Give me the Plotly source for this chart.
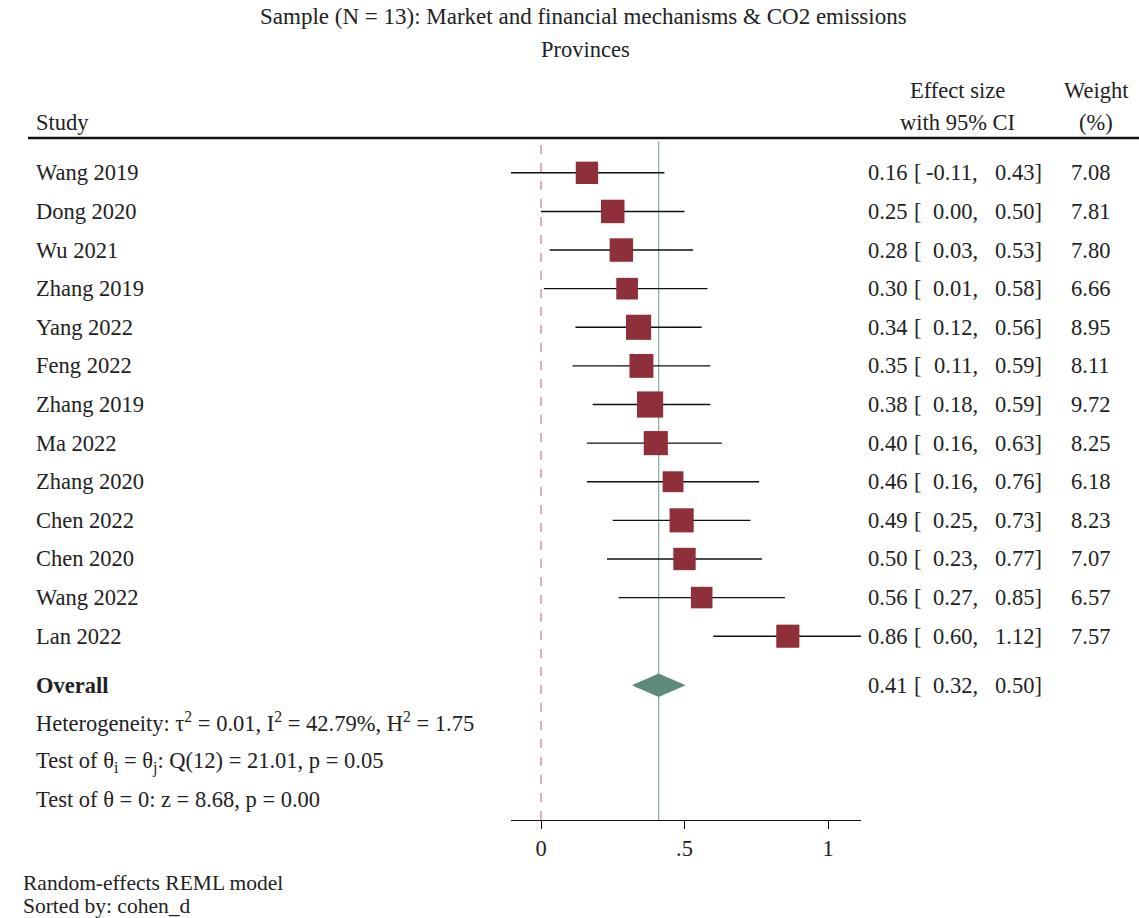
import plotly.graph_objects as go

studies = ["Wang 2019", "Dong 2020", "Wu 2021", "Zhang 2019", "Yang 2022", "Feng 2022",
           "Zhang 2019", "Ma 2022", "Zhang 2020", "Chen 2022", "Chen 2020", "Wang 2022", "Lan 2022"]
effect = [0.16, 0.25, 0.28, 0.30, 0.34, 0.35, 0.38, 0.40, 0.46, 0.49, 0.50, 0.56, 0.86]
ci_low = [-0.11, 0.00, 0.03, 0.01, 0.12, 0.11, 0.18, 0.16, 0.16, 0.25, 0.23, 0.27, 0.60]
ci_high = [0.43, 0.50, 0.53, 0.58, 0.56, 0.59, 0.59, 0.63, 0.76, 0.73, 0.77, 0.85, 1.12]
weight = [7.08, 7.81, 7.80, 6.66, 8.95, 8.11, 9.72, 8.25, 6.18, 8.23, 7.07, 6.57, 7.57]

overall = 0.41
overall_low = 0.32
overall_high = 0.50

tick_vals = [0, 0.5, 1]
tick_text = ["0", ".5", "1"]

title1 = "Sample (N = 13): Market and financial mechanisms & CO2 emissions"
title2 = "Provinces"
stats_lines = [
    "Heterogeneity: τ<sup>2</sup> = 0.01, I<sup>2</sup> = 42.79%, H<sup>2</sup> = 1.75",
    "Test of θ<sub>i</sub> = θ<sub>j</sub>: Q(12) = 21.01, p = 0.05",
    "Test of θ = 0: z = 8.68, p = 0.00",
]
footer = ["Random-effects REML model", "Sorted by: cohen_d"]

W, H = 1139, 918
FONT = "Liberation Serif, Times New Roman, serif"
FS = 22.5
TXT = "#222222"
SQ = "#8E2F3A"
DIA = "#5E8A7E"

def px(xp):
    return xp / W

def py(yp):
    return 1 - yp / H

n = len(studies)
rows = list(range(n))
row_overall = 13.27
row_stats = [14.22, 15.26, 16.24]

fig = go.Figure()

y_top, y_bot = -0.72, 16.76
fig.add_trace(go.Scatter(x=[0, 0], y=[y_top, y_bot], mode="lines",
                         line=dict(color="#C9858C", width=1.3, dash="dash"),
                         hoverinfo="skip", showlegend=False))
fig.add_trace(go.Scatter(x=[overall, overall], y=[y_top - 0.1, y_bot], mode="lines",
                         line=dict(color="#8FB0A6", width=1.3),
                         hoverinfo="skip", showlegend=False))

for i in rows:
    fig.add_trace(go.Scatter(x=[ci_low[i], ci_high[i]], y=[i, i], mode="lines",
                             line=dict(color="#111111", width=1.4),
                             hoverinfo="skip", showlegend=False))

fig.add_trace(go.Scatter(x=effect, y=rows, mode="markers",
                         marker=dict(symbol="square", color=SQ, opacity=1,
                                     size=[8.4 * w ** 0.5 for w in weight],
                                     line=dict(width=0)),
                         hoverinfo="skip", showlegend=False))

dh = 0.29
fig.add_trace(go.Scatter(x=[overall_low, overall, overall_high, overall, overall_low],
                         y=[row_overall, row_overall - dh, row_overall, row_overall + dh, row_overall],
                         mode="lines", fill="toself", fillcolor=DIA,
                         line=dict(color=DIA, width=1), hoverinfo="skip", showlegend=False))

ann = []

def add_text(text, x, y, xanchor="left", yref="y", size=FS, bold=False):
    ann.append(dict(text=("<b>%s</b>" % text) if bold else text, x=x, y=y,
                    xref="paper", yref=yref, xanchor=xanchor, yanchor="middle",
                    showarrow=False, font=dict(family=FONT, size=size, color=TXT)))

add_text(title1, px(583), py(17), "center", "paper", size=23)
add_text(title2, px(585), py(50), "center", "paper")
add_text("Study", px(34), py(123), "left", "paper")
add_text("Effect size", px(957), py(91), "center", "paper")
add_text("with 95% CI", px(957), py(123), "center", "paper")
add_text("Weight", px(1096), py(91), "center", "paper")
add_text("(%)", px(1096), py(123), "center", "paper")

def ci_cols(y, est, lo, hi):
    add_text("%.2f" % est, px(909), y, "right")
    add_text("[", px(912), y, "left")
    add_text("%.2f," % lo, px(980), y, "right")
    add_text("%.2f]" % hi, px(1044), y, "right")

for i in rows:
    add_text(studies[i], px(34), i, "left")
    ci_cols(i, effect[i], ci_low[i], ci_high[i])
    add_text("%.2f" % weight[i], px(1112), i, "right")

add_text("Overall", px(34), row_overall, "left", bold=True)
ci_cols(row_overall, overall, overall_low, overall_high)
for r, s in zip(row_stats, stats_lines):
    add_text(s, px(34), r, "left")

add_text(footer[0], px(21), py(883), "left", "paper", size=21.5)
add_text(footer[1], px(21), py(906), "left", "paper", size=21.5)

fig.update_layout(
    width=W, height=H, margin=dict(l=0, r=0, t=0, b=0),
    paper_bgcolor="white", plot_bgcolor="white",
    annotations=ann,
    shapes=[dict(type="line", xref="paper", yref="paper", x0=px(28), x1=1.0,
                 y0=py(138), y1=py(138), line=dict(color="#111111", width=2.5))],
    xaxis=dict(domain=[px(511), px(861)],
               range=[(511 - 541) / 287, (861 - 541) / 287],
               tickvals=tick_vals, ticktext=tick_text, ticks="outside", ticklen=8,
               tickcolor="#111111", showline=True, linecolor="#111111", linewidth=1.3,
               showgrid=False, zeroline=False,
               tickfont=dict(family=FONT, size=FS, color=TXT), anchor="y"),
    yaxis=dict(domain=[py(820), py(140)], range=[16.76, -0.85],
               visible=False, showgrid=False, zeroline=False),
)

fig.write_html("out.html", config={"displayModeBar": False},
               post_script="document.body.style.margin='0';document.body.style.overflow='hidden';")
